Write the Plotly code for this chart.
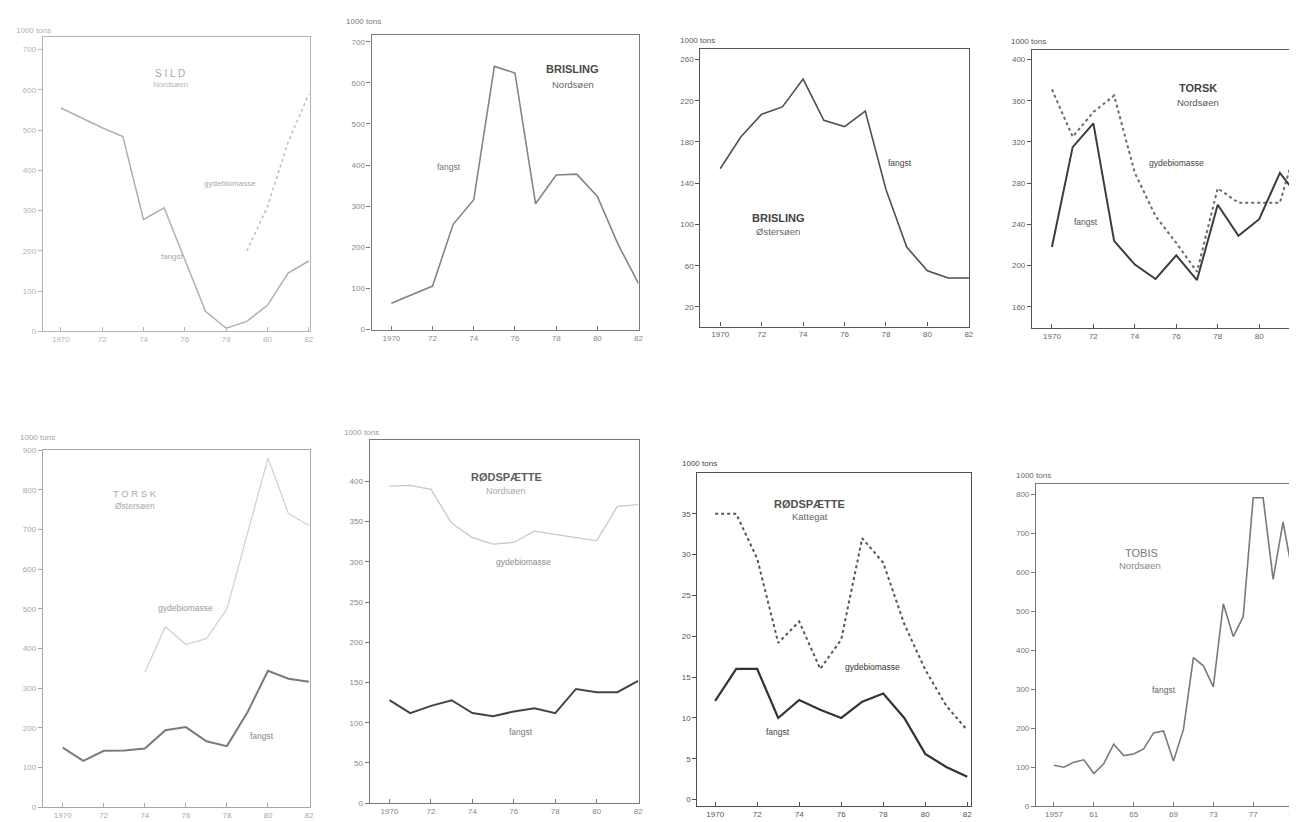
import plotly.graph_objects as go

W, H = 1297, 822

# ---------------- data ----------------
years = list(range(1970, 1983))
year_ticks = [1970, 1972, 1974, 1976, 1978, 1980, 1982]
year_ticktext = ["1970", "72", "74", "76", "78", "80", "82"]

# SILD Nordsøen
sild_fangst = [555, 530, 506, 484, 278, 307, 180, 50, 8, 25, 65, 145, 175]
sild_gyde = [None, None, None, None, None, None, None, None, None, 200, 310, 470, 590]

# BRISLING Nordsøen
brisling_ns_fangst = [64, 84, 106, 256, 316, 640, 624, 306, 376, 378, 324, 208, 112]

# BRISLING Østersøen
brisling_os_fangst = [154, 185, 207, 214, 241, 201, 195, 210, 134, 78, 55, 48, 48]

# TORSK Nordsøen
torsk_ns_fangst = [218, 315, 338, 224, 201, 187, 210, 186, 259, 229, 245, 290, 264]
torsk_ns_gyde = [371, 325, 349, 365, 290, 248, 222, 194, 275, 261, 261, 261, 330]

# TORSK Østersøen
torsk_os_fangst = [150, 117, 142, 143, 148, 194, 202, 166, 154, 239, 344, 324, 316]
torsk_os_gyde = [None, None, None, None, 340, 455, 410, 425, 500, 690, 880, 740, 710]

# RØDSPÆTTE Nordsøen
rod_ns_fangst = [128, 112, 121, 128, 112, 108, 114, 118, 112, 142, 138, 138, 152]
rod_ns_gyde = [394, 395, 390, 348, 330, 322, 324, 338, 334, 330, 326, 369, 371]

# RØDSPÆTTE Kattegat
rod_kt_fangst = [12.1, 16, 16, 10, 12.2, 11, 10, 12, 13, 10, 5.6, 4, 2.8]
rod_kt_gyde = [35, 35, 29.5, 19.2, 21.8, 16, 19.6, 32, 29, 21.5, 15.9, 11.5, 8.5]

# TOBIS Nordsøen
tobis_years = list(range(1957, 1983))
tobis_fangst = [105, 100, 113, 119, 84, 109, 159, 130, 134, 147, 188, 193, 116,
                197, 381, 360, 306, 519, 435, 486, 791, 791, 582, 729, 590, 599]
tobis_ticks = [1957, 1961, 1965, 1969, 1973, 1977, 1981]
tobis_ticktext = ["1957", "61", "65", "69", "73", "77", "81"]

FONT = "Liberation Sans, Arial, sans-serif"

# ---------------- panel layout (pixels: left, right, top, bottom) ----------------
panels = [
    dict(box=(35, 303, 25, 323), xr=[1969.13, 1982.05], yr=[0, 732],
         yt=list(range(0, 701, 100)), xt=year_ticks, xtt=year_ticktext,
         axc="#b4b4b4", tc="#b4b4b4", mirror=True),
    dict(box=(365, 633, 23, 322), xr=[1969.04, 1982.0], yr=[-2, 717],
         yt=list(range(0, 701, 100)), xt=year_ticks, xtt=year_ticktext,
         axc="#7a7a7a", tc="#8a8a8a", mirror=True),
    dict(box=(695, 965, 37, 318), xr=[1969.04, 1982.02], yr=[1, 270.6],
         yt=list(range(20, 261, 40)), xt=year_ticks, xtt=year_ticktext,
         axc="#555555", tc="#666666", mirror=True),
    dict(box=(1028, 1297, 38, 320), xr=[1969.04, 1981.97], yr=[139, 409.6],
         yt=list(range(160, 401, 40)), xt=year_ticks, xtt=year_ticktext,
         axc="#555555", tc="#666666", mirror="top"),
    dict(box=(35, 303, 443, 804), xr=[1969.03, 1982.04], yr=[0, 900],
         yt=list(range(0, 901, 100)), xt=year_ticks, xtt=year_ticktext,
         axc="#a8a8a8", tc="#a8a8a8", mirror=True),
    dict(box=(363, 633, 433, 800), xr=[1969.04, 1982.02], yr=[0, 451],
         yt=list(range(0, 401, 50)), xt=year_ticks, xtt=year_ticktext,
         axc="#777777", tc="#888888", mirror=True),
    dict(box=(692, 967, 466, 803), xr=[1969.15, 1982.19], yr=[-0.8, 40],
         yt=list(range(0, 36, 5)), xt=year_ticks, xtt=year_ticktext,
         axc="#505050", tc="#555555", mirror=True),
    dict(box=(1032, 1297, 477, 803), xr=[1955.2, 1981.7], yr=[0, 827],
         yt=list(range(0, 801, 100)), xt=tobis_ticks, xtt=tobis_ticktext,
         axc="#777777", tc="#777777", mirror="top"),
]

fig = go.Figure()

# ---------------- traces ----------------
series = [
    (1, years, sild_fangst, "#b0b0b0", 1.5, "solid"),
    (1, years, sild_gyde, "#bcbcbc", 1.5, "dot"),
    (2, years, brisling_ns_fangst, "#858585", 1.6, "solid"),
    (3, years, brisling_os_fangst, "#505050", 1.6, "solid"),
    (4, years, torsk_ns_gyde, "#6a6a6a", 2.0, "dot"),
    (4, years, torsk_ns_fangst, "#3c3c3c", 2.0, "solid"),
    (5, years, torsk_os_gyde, "#d2d2d2", 1.3, "solid"),
    (5, years, torsk_os_fangst, "#7a7a7a", 2.0, "solid"),
    (6, years, rod_ns_gyde, "#c8c8c8", 1.3, "solid"),
    (6, years, rod_ns_fangst, "#454545", 2.0, "solid"),
    (7, years, rod_kt_gyde, "#555555", 2.0, "dot"),
    (7, years, rod_kt_fangst, "#333333", 2.2, "solid"),
    (8, tobis_years, tobis_fangst, "#7a7a7a", 1.6, "solid"),
]
for idx, xs, ys, col, w, dash in series:
    sfx = "" if idx == 1 else str(idx)
    fig.add_trace(go.Scatter(
        x=xs, y=ys, mode="lines", connectgaps=False,
        line=dict(color=col, width=w, dash=dash),
        xaxis="x" + sfx, yaxis="y" + sfx, showlegend=False, hoverinfo="skip"))

# ---------------- axes ----------------
layout_axes = {}
for i, p in enumerate(panels, start=1):
    sfx = "" if i == 1 else str(i)
    l, r, t, b = p["box"]
    xd = [l / W, min(r / W, 1.0)]
    yd = [1 - b / H, 1 - t / H]
    layout_axes["xaxis" + sfx] = dict(
        domain=xd, range=p["xr"], anchor="y" + sfx,
        showline=True, linecolor=p["axc"], linewidth=1.2, mirror=True,
        showgrid=False, zeroline=False,
        tickmode="array", tickvals=p["xt"], ticktext=p["xtt"],
        ticks="inside", ticklen=4, tickcolor=p["axc"],
        tickfont=dict(family=FONT, size=8, color=p["tc"]),
    )
    layout_axes["yaxis" + sfx] = dict(
        domain=yd, range=p["yr"], anchor="x" + sfx,
        showline=True, linecolor=p["axc"], linewidth=1.2,
        mirror=(p["mirror"] is True),
        showgrid=False, zeroline=False,
        tickmode="array", tickvals=p["yt"], ticktext=[str(v) for v in p["yt"]],
        ticks="outside", ticklen=4, tickcolor=p["axc"],
        tickfont=dict(family=FONT, size=8, color=p["tc"]),
    )

# ---------------- annotations ----------------
def ann(text, x, y, size=9, color="#444", anchor="center", bold=False):
    t = "<b>%s</b>" % text if bold else text
    return dict(text=t, x=x / W, y=1 - y / H, xref="paper", yref="paper",
                showarrow=False, xanchor=anchor, yanchor="middle",
                font=dict(family=FONT, size=size, color=color))

annotations = [
    # panel 1
    ann("1000 tons", 6, 19, 8, "#b0b0b0", "left"),
    ann("S I L D", 163, 62, 10, "#a8a8a8"),
    ann("Nordsøen", 163, 73, 8, "#b8b8b8"),
    ann("gydebiomasse", 223, 173, 8, "#a8a8a8"),
    ann("fangst", 165, 247, 8, "#a8a8a8"),
    # panel 2
    ann("1000 tons", 337, 10, 8, "#7a7a7a", "left"),
    ann("BRISLING", 567, 58, 11, "#4a4a4a", bold=True),
    ann("Nordsøen", 567, 73, 9.5, "#666666"),
    ann("fangst", 443, 157, 8.5, "#777777"),
    # panel 3
    ann("1000 tons", 673, 29, 8, "#555555", "left"),
    ann("BRISLING", 773, 208, 11, "#444444", bold=True),
    ann("Østersøen", 773, 222, 9.5, "#666666"),
    ann("fangst", 895, 153, 8.5, "#444444"),
    # panel 4
    ann("1000 tons", 1005, 30, 8, "#555555", "left"),
    ann("TORSK", 1195, 77, 11, "#444444", bold=True),
    ann("Nordsøen", 1195, 91, 9.5, "#555555"),
    ann("gydebiomasse", 1173, 153, 8.5, "#444444"),
    ann("fangst", 1082, 212, 8.5, "#555555"),
    # panel 5
    ann("1000 tons", 10, 430, 8, "#a0a0a0", "left"),
    ann("T O R S K", 127, 487, 9.5, "#aaaaaa"),
    ann("Østersøen", 127, 499, 8.5, "#aaaaaa"),
    ann("gydebiomasse", 178, 603, 8.5, "#9a9a9a"),
    ann("fangst", 255, 732, 8.5, "#888888"),
    # panel 6
    ann("1000 tons", 335, 425, 8, "#999999", "left"),
    ann("RØDSPÆTTE", 500, 470, 11, "#606060", bold=True),
    ann("Nordsøen", 500, 484, 9, "#aaaaaa"),
    ann("gydebiomasse", 517, 556, 8.5, "#8a8a8a"),
    ann("fangst", 515, 728, 8.5, "#777777"),
    # panel 7
    ann("1000 tons", 675, 457, 8, "#444444", "left"),
    ann("RØDSPÆTTE", 805, 497, 11, "#505050", bold=True),
    ann("Kattegat", 805, 510, 9.5, "#666666"),
    ann("gydebiomasse", 868, 662, 8.5, "#333333"),
    ann("fangst", 773, 728, 8.5, "#444444"),
    # panel 8
    ann("1000 tons", 1010, 469, 8, "#666666", "left"),
    ann("TOBIS", 1138, 547, 11, "#777777"),
    ann("Nordsøen", 1136, 560, 9.5, "#888888"),
    ann("fangst", 1160, 685, 8.5, "#666666"),
]

fig.update_layout(
    width=W, height=H,
    margin=dict(l=0, r=0, t=0, b=0),
    paper_bgcolor="white", plot_bgcolor="white",
    showlegend=False,
    annotations=annotations,
    **layout_axes,
)

fig.write_html("out.html")
